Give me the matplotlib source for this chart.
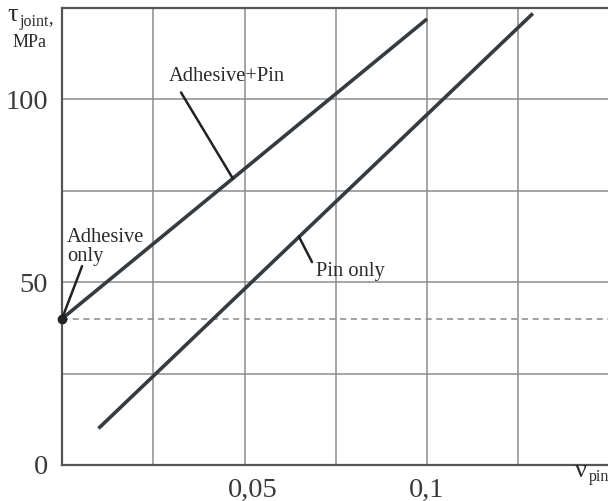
import numpy as np
import matplotlib
matplotlib.use('Agg')
import matplotlib.pyplot as plt
from matplotlib.transforms import ScaledTranslation

plt.rcParams['font.family'] = ['Liberation Serif', 'DejaVu Serif']

# data
adh_pin_x = [0.0, 0.1]
adh_pin_y = [40.0, 122.0]
pin_x = [0.01, 0.129]
pin_y = [10.0, 123.5]
adhesive_only = (0.0, 40.0)

x_ticks = [0.05, 0.1]
x_ticklabels = ['0,05', '0,1']
y_ticks = [0, 50, 100]
y_ticklabels = ['0', '50', '100']
x_grid = [0.025, 0.05, 0.075, 0.1, 0.125]
y_grid = [25, 50, 75, 100]

W, H = 608, 501
fig = plt.figure(figsize=(W / 100, H / 100), dpi=100)
# axes box in pixels: left 62, right 608, top 8, bottom 465
ax = fig.add_axes([62 / W, (H - 465) / H, (608 - 62) / W, (465 - 8) / H])

ax.set_xlim(0, (608 - 62) / 3650)
ax.set_ylim(0, 125)

grid_col = '#8c8c8c'
for gx in x_grid:
    ax.axvline(gx, color=grid_col, lw=1.1, zorder=1)
for gy in y_grid:
    ax.axhline(gy, color=grid_col, lw=1.1, zorder=1)

# dashed level of adhesive only
ax.axhline(adhesive_only[1], color='#888888', lw=1.1, ls=(0, (4, 3)), zorder=1)

line_col = '#363b40'
ax.plot(adh_pin_x, adh_pin_y, color=line_col, lw=2.6, solid_capstyle='butt', zorder=3)
ax.plot(pin_x, pin_y, color=line_col, lw=2.6, solid_capstyle='butt', zorder=3)
ax.plot(*adhesive_only, 'o', color='#222222', ms=6, zorder=4, clip_on=False)

# spines
for s in ['left', 'bottom', 'top']:
    ax.spines[s].set_color('#555555')
    ax.spines[s].set_linewidth(1.6)
ax.spines['right'].set_visible(False)

ax.set_xticks(x_ticks)
ax.set_xticklabels(x_ticklabels)
ax.set_yticks(y_ticks)
ax.set_yticklabels(y_ticklabels)
ax.tick_params(length=0, labelsize=20.5, labelcolor='#3a3a3a')
ax.tick_params(axis='y', pad=10)
ax.tick_params(axis='x', pad=9)
# the "0,05" label sits a bit right of its grid line in the original
lab = ax.get_xticklabels()[0]
lab.set_transform(lab.get_transform() + ScaledTranslation(8 / 100, 0, fig.dpi_scale_trans))

# annotations with leader lines
txt_col = '#2a2a2a'
lead = dict(arrowstyle='-', color='#222222', lw=1.8, shrinkA=0, shrinkB=0)

ax.text(0.0452, 106.3, 'Adhesive+Pin', fontsize=14.8, color=txt_col,
        ha='center', va='center')
ax.annotate('', xy=(0.0468, 40 + 0.0468 * 820), xytext=(0.0326, 101.9),
            arrowprops=lead)

ax.text(0.0014, 55.7, 'Adhesive\nonly', fontsize=14.8, color=txt_col,
        ha='left', va='baseline', linespacing=1.05)
ax.annotate('', xy=adhesive_only, xytext=(0.0055, 54.4), arrowprops=lead,
            annotation_clip=False)

ax.text(0.0696, 51.6, 'Pin only', fontsize=14.8, color=txt_col,
        ha='left', va='baseline')
ax.annotate('', xy=(0.0649, 10 + (0.0649 - 0.01) * 956), xytext=(0.0685, 55.5),
            arrowprops=lead)

# axis titles (upright greek, subscripts as small text)
fig.text(7 / W, (H - 21) / H, 'τ', fontsize=19, color=txt_col,
         ha='left', va='baseline')
fig.text(19 / W, (H - 26) / H, 'joint', fontsize=11.5, color=txt_col,
         ha='left', va='baseline')
fig.text(48 / W, (H - 23) / H, ',', fontsize=13, color=txt_col,
         ha='left', va='baseline')
fig.text(30 / W, (H - 47) / H, 'MPa', fontsize=13, color=txt_col,
         ha='center', va='baseline')
fig.text(575 / W, (H - 477) / H, 'ν', fontsize=19, color=txt_col,
         ha='left', va='baseline')
fig.text(589 / W, (H - 481) / H, 'pin', fontsize=11.5, color=txt_col,
         ha='left', va='baseline')

fig.savefig('out.png', dpi=100)
